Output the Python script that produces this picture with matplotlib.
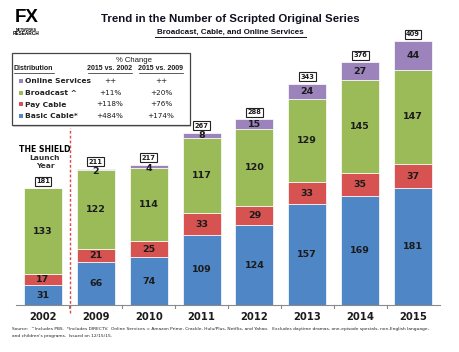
import matplotlib
matplotlib.use("Agg")
import matplotlib.pyplot as plt
from matplotlib.patches import Rectangle

years = ["2002", "2009", "2010", "2011", "2012", "2013", "2014", "2015"]
basic_cable = [31, 66, 74, 109, 124, 157, 169, 181]
pay_cable = [17, 21, 25, 33, 29, 33, 35, 37]
broadcast = [133, 122, 114, 117, 120, 129, 145, 147]
online = [0, 2, 4, 8, 15, 24, 27, 44]
totals = [181, 211, 217, 267, 288, 343, 376, 409]

dist_labels = ["Online Services", "Broadcast ^", "Pay Cable", "Basic Cable*"]
chg_2002 = ["++", "+11%", "+118%", "+484%"]
chg_2009 = ["++", "+20%", "+76%", "+174%"]

c_blue = "#4F86C6"
c_red = "#D65352"
c_green = "#9BBB59"
c_purple = "#9C83BC"
txt = "#1b1b1b"
lib = "Liberation Sans"

W, H = 460, 352
fig = plt.figure(figsize=(W / 100, H / 100), dpi=100)
fig.patch.set_facecolor("white")

def fx(px):
    return px / W

def fy(py):
    return 1 - py / H

ppu = 0.645
ytop = 430
left_px, right_px = 16, 440
xc0, step = 43, (413 - 43) / 7
xmin = (left_px - xc0) / step
xmax = (right_px - xc0) / step
ax = fig.add_axes([fx(left_px), fy(305), (right_px - left_px) / W, ytop * ppu / H])
ax.set_xlim(xmin, xmax)
ax.set_ylim(0, ytop)
ax.patch.set_alpha(0)
for s in ["top", "right", "left"]:
    ax.spines[s].set_visible(False)
ax.spines["bottom"].set_color("#8a8a8a")
ax.spines["bottom"].set_linewidth(0.8)
ax.set_yticks([])

x = list(range(len(years)))
bw = 38 / step
series = [(basic_cable, c_blue), (pay_cable, c_red), (broadcast, c_green), (online, c_purple)]
bottoms = [0] * len(years)
for vals, col in series:
    ax.bar(x, vals, bw, bottom=bottoms, color=col, edgecolor="white", linewidth=0.5)
    for i, v in enumerate(vals):
        if v <= 0:
            continue
        if v < 6:
            yy = bottoms[i] + v / 2 - 3
        else:
            yy = bottoms[i] + v / 2
        ax.text(i, yy, str(v), ha="center", va="center", fontsize=6.8,
                fontweight="bold", color=txt)
    bottoms = [b + v for b, v in zip(bottoms, vals)]

for i, t in enumerate(totals):
    ax.text(i, t + 11, str(t), ha="center", va="center", fontsize=4.8,
            fontweight="bold", color=txt,
            bbox=dict(boxstyle="square,pad=0.22", fc="white", ec="#222222", lw=0.8))

ax.set_xticks(x)
ax.set_xticklabels(years, fontsize=7.2, fontweight="bold", color=txt)
ax.tick_params(axis="x", length=0, pad=5)
for k in range(len(years) - 1):
    ax.plot([k + 0.5, k + 0.5], [0, -4.5], color="#8a8a8a", lw=0.8, clip_on=False)

ax.plot([0.51, 0.51], [-13, 274], color="#E0474C", lw=1.0, ls=(0, (2, 1.5)), clip_on=False)

# title
fig.text(fx(230), fy(19), "Trend in the Number of Scripted Original Series",
         ha="center", va="center", fontsize=8.2, fontweight="bold", color="#111122",
         family=lib)
fig.text(fx(230.5), fy(32), "Broadcast, Cable, and Online Services",
         ha="center", va="center", fontsize=5.8, fontweight="bold", color="#111122",
         family=lib)
fig.add_artist(plt.Line2D([fx(155), fx(306)], [fy(36.5), fy(36.5)], color="#111122", lw=0.7))

# logo
fig.text(fx(26.5), fy(18), "FX", ha="center", va="center", fontsize=13.5, fontweight="bold",
         color="black", family=lib)
fig.text(fx(26.5), fy(29.8), "NETWORKS", ha="center", va="center", fontsize=2.6,
         fontweight="bold", color="black", family=lib)
fig.text(fx(26.5), fy(33.6), "RESEARCH", ha="center", va="center", fontsize=3.4,
         fontweight="bold", color="black", family=lib)

# table box
fig.add_artist(Rectangle((fx(13.5), fy(126.5)), (190 - 12) / W, (126 - 53) / H,
                         fc="#cfcfcf", ec="none", lw=0))
fig.add_artist(Rectangle((fx(12), fy(125)), (190 - 12) / W, (125 - 53) / H,
                         fc="white", ec="#444444", lw=0.9))
fig.text(fx(134), fy(60), "% Change", ha="center", va="center", fontsize=5.6, color=txt,
         family=lib)
fig.text(fx(14), fy(69), "Distribution", ha="left", va="center", fontsize=5.0,
         fontweight="bold", color=txt, family=lib)
fig.add_artist(plt.Line2D([fx(14), fx(54)], [fy(72.5), fy(72.5)], color=txt, lw=0.5))
for cx, lab in [(110, "2015 vs. 2002"), (161, "2015 vs. 2009")]:
    fig.text(fx(cx), fy(69), lab, ha="center", va="center", fontsize=5.0,
             fontweight="bold", color=txt, family=lib)
    fig.add_artist(plt.Line2D([fx(cx - 22), fx(cx + 22)], [fy(72.5), fy(72.5)], color=txt, lw=0.5))
row_cols = [c_purple, c_green, c_red, c_blue]
row_y = [81, 93, 104.5, 116]
for lab, a, b, col, ry in zip(dist_labels, chg_2002, chg_2009, row_cols, row_y):
    fig.add_artist(Rectangle((fx(19), fy(ry + 2)), 4 / W, 4 / H, fc=col, ec="none"))
    fig.text(fx(25), fy(ry), lab, ha="left", va="center", fontsize=5.4,
             fontweight="bold", color="#222222")
    fig.text(fx(110), fy(ry), a, ha="center", va="center", fontsize=5.2, color=txt)
    fig.text(fx(161), fy(ry), b, ha="center", va="center", fontsize=5.2, color=txt)

# The Shield annotation
fig.text(fx(45), fy(149), "THE SHIELD", ha="center", va="center", fontsize=5.6,
         fontweight="bold", color="black")
fig.text(fx(45), fy(158), "Launch", ha="center", va="center", fontsize=5.4,
         fontweight="bold", color="#333333")
fig.text(fx(45), fy(166.5), "Year", ha="center", va="center", fontsize=5.4,
         fontweight="bold", color="#333333")

# source note
fig.text(fx(12), fy(329), "Source:  ^Includes PBS.  *Includes DIRECTV.  Online Services = Amazon Prime, Crackle, Hulu/Plus, "
         "Netflix, and Yahoo.   Excludes daytime dramas, one-episode specials, non-English language,",
         ha="left", va="center", fontsize=3.2, color="#222222")
fig.text(fx(12), fy(336), "and children's programs.  Issued on 12/15/15.",
         ha="left", va="center", fontsize=3.2, color="#222222")

fig.savefig("out.png", dpi=100, facecolor="white")
